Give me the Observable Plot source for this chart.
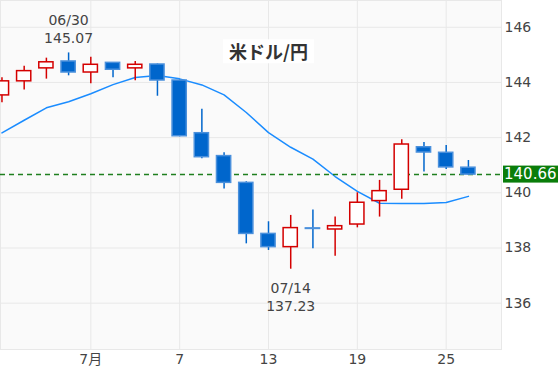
<!DOCTYPE html>
<html><head><meta charset="utf-8">
<script src="https://cdn.jsdelivr.net/npm/d3@7"></script>
<script src="https://cdn.jsdelivr.net/npm/@observablehq/plot@0.6"></script>
<style>body{margin:0;background:#fff;} svg{display:block}</style>
</head><body><div id="chart"></div>
<script>
// trading days (weekends skipped)
const dates = ["06/27","06/28","06/29","06/30","07/03","07/04","07/05","07/06","07/07",
  "07/10","07/11","07/12","07/13","07/14","07/17","07/18","07/19","07/20","07/21",
  "07/24","07/25","07/26"];
const open  = [143.53,144.04,144.51,144.76,144.36,144.71,144.51,144.65,144.07,
  142.16,141.33,140.36,138.51,138.03,138.71,138.67,138.85,139.70,140.11,141.65,141.45,140.91];
const high  = [144.17,144.59,144.88,145.07,144.91,144.72,144.76,144.67,144.10,
  143.03,141.45,140.40,138.95,139.18,139.38,139.12,140.00,140.45,141.92,141.82,141.71,141.17];
const low   = [143.26,143.73,144.12,144.24,143.95,144.17,144.06,143.50,142.03,
  141.23,140.14,138.15,137.91,137.23,137.97,137.70,138.73,139.12,139.77,140.75,140.84,140.63];
const close = [144.04,144.41,144.73,144.36,144.64,144.46,144.64,144.07,142.05,
  141.29,140.36,138.51,138.03,138.72,138.69,138.79,139.64,140.06,141.75,141.46,140.92,140.66];
const ma    = [142.17,142.63,143.08,143.30,143.59,143.92,144.18,144.25,144.13,
  143.91,143.55,142.91,142.18,141.65,141.22,140.59,140.05,139.62,139.61,139.61,139.65,139.87];

const xTickIdx = [4, 8, 12, 16, 20];
const xTickLabels = ["7月", "7", "13", "19", "25"];
const yTicks = [136, 138, 140, 142, 144, 146];
const lastPrice = 140.66;
const title = "米ドル/円";
const hiIdx = 3, loIdx = 13;

const RED = "#d40000", BLUE = "#0066cc", BLUE_EDGE = "#4a90dc";
const data = dates.map((d, i) => ({i, date: d, o: open[i], h: high[i], l: low[i], c: close[i], ma: ma[i], up: close[i] >= open[i]}));

const chart = Plot.plot({
  width: 560, height: 372,
  marginLeft: 0, marginRight: 59, marginTop: 0, marginBottom: 23,
  style: {fontFamily: "'DejaVu Sans','Noto Sans CJK JP',sans-serif", fontSize: "14px", color: "#444", background: "#fff", overflow: "visible"},
  x: {domain: [-0.066, 22.49], axis: "bottom", ticks: xTickIdx, tickFormat: d => xTickLabels[xTickIdx.indexOf(d)], tickSize: 0, tickPadding: 5, label: null},
  y: {domain: [134.32, 146.97], axis: "right", ticks: yTicks, tickFormat: d => String(d), tickSize: 0, tickPadding: 3, label: null},
  marks: [
    Plot.frame({fill: "#fafafa"}),
    Plot.ruleY(yTicks, {stroke: "#e8e8e8", strokeWidth: 1}),
    Plot.ruleX(xTickIdx, {stroke: "#e8e8e8", strokeWidth: 1}),
    Plot.frame({stroke: "#e8e8e8"}),
    Plot.line(data, {x: "i", y: "ma", stroke: "#1a8cff", strokeWidth: 1.5}),
    Plot.ruleY([lastPrice], {stroke: "#1f7f1f", strokeDasharray: "5,4", strokeWidth: 1.5}),
    Plot.ruleX(data, {x: "i", y1: "l", y2: "h", stroke: d => d.up ? RED : BLUE, strokeWidth: 1.5}),
    Plot.rect(data, {x1: d => d.i - 0.32, x2: d => d.i + 0.32, y1: "o", y2: "c",
      fill: d => d.up ? "#ffffff" : BLUE, stroke: d => d.up ? RED : BLUE_EDGE, strokeWidth: 1.5}),
    Plot.text([data[hiIdx]], {x: "i", y: "h", text: d => d.date + "\n" + d.h.toFixed(2), lineAnchor: "bottom", dy: -10, fontSize: 14, fill: "#444", lineHeight: 1.3}),
    Plot.text([data[loIdx]], {x: "i", y: "l", text: d => d.date + "\n" + d.l.toFixed(2), lineAnchor: "top", dy: 11, fontSize: 14, fill: "#444", lineHeight: 1.3}),
    Plot.text([title], {frameAnchor: "top-left", dx: 268, dy: 53, textAnchor: "middle", lineAnchor: "middle", fontSize: 18, fontWeight: "bold", fill: "#333", fontFamily: "'Noto Sans CJK JP',sans-serif"})
  ]
});
document.getElementById("chart").appendChild(chart);

// white box behind title
const svg = d3.select(chart);
svg.selectAll("text").filter(function() { return this.textContent === title; }).each(function() {
  const b = this.getBBox();
  const g = this.parentNode;
  d3.select(g.parentNode).insert("rect", () => g)
    .attr("x", b.x - 6).attr("y", b.y + 1).attr("width", b.width + 12).attr("height", b.height - 2)
    .attr("fill", "#fff").attr("transform", g.getAttribute("transform"));
});
// current price label on right axis
const py = chart.scale("y").apply(lastPrice);
const px = 560 - 59 + 2;
const lab = svg.append("g").attr("text-anchor", "start");
lab.append("rect").attr("x", px).attr("y", py - 8.5).attr("width", 55).attr("height", 17).attr("fill", "#0a7d0a");
lab.append("text").attr("x", px + 1).attr("y", py).attr("dy", "0.35em").attr("fill", "#fff")
  .attr("text-anchor", "start").attr("font-size", 15).text(lastPrice.toFixed(2));
</script></body></html>
